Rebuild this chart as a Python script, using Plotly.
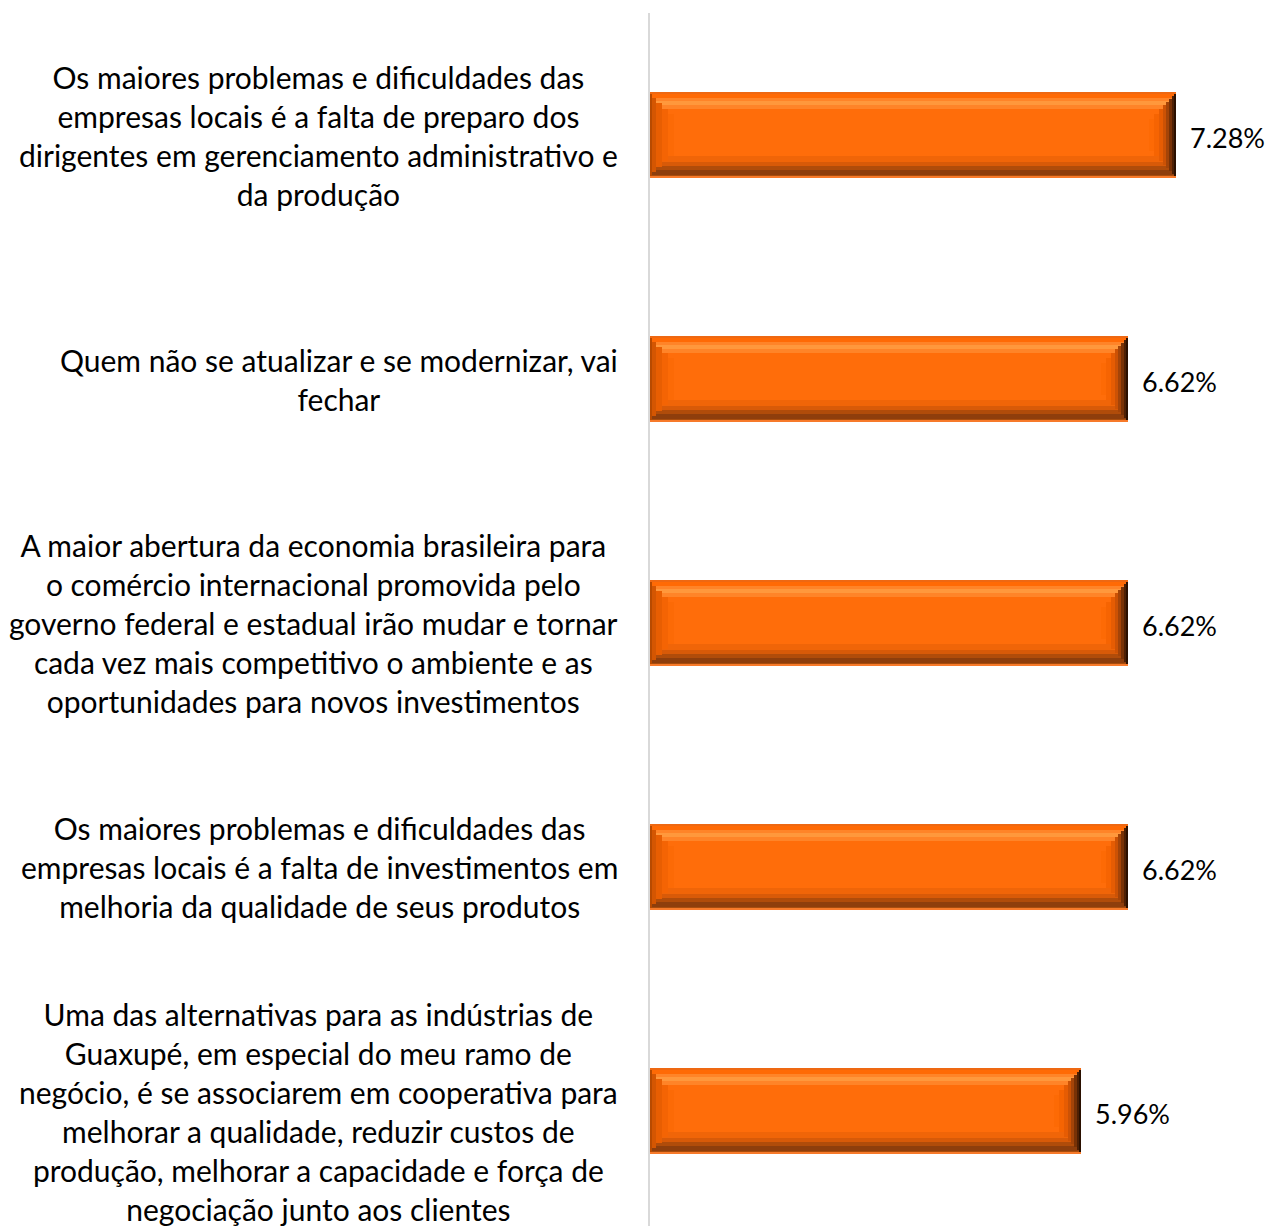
import numpy as np
import plotly.graph_objects as go

categories = [
    "Os maiores problemas e dificuldades das<br>empresas locais é a falta de preparo dos<br>dirigentes em gerenciamento administrativo e<br>da produção",
    "Quem não se atualizar e se modernizar, vai<br>fechar",
    "A maior abertura da economia brasileira para<br>o comércio internacional promovida pelo<br>governo federal e estadual irão mudar e tornar<br>cada vez mais competitivo o ambiente e as<br>oportunidades para novos investimentos",
    "Os maiores problemas e dificuldades das<br>empresas locais é a falta de investimentos em<br>melhoria da qualidade de seus produtos",
    "Uma das alternativas para as indústrias de<br>Guaxupé, em especial do meu ramo de<br>negócio, é se associarem em cooperativa para<br>melhorar a qualidade, reduzir custos de<br>produção, melhorar a capacidade e força de<br>negociação junto aos clientes",
]
values = [7.28, 6.62, 6.62, 6.62, 5.96]
value_labels = ["7.28%", "6.62%", "6.62%", "6.62%", "5.96%"]

# page body has an 8px margin, so the figure is sized to fit the 1275x1226 window
W, H = 1267, 1218
ML, MR, MT, MB = 642, 0, 5, 0
XMAX = 8.65
YTOP = -0.5
PY = 244.0                            # px per category unit
YBOT = YTOP + (H - MT - MB) / PY
QX = (W - ML - MR) / XMAX             # px per x unit
BAR_PX = 86.0
HB = BAR_PX / PY                      # bar thickness in category units

ypos = np.arange(len(categories))
vals = np.array(values)

fig = go.Figure()

def add_bar(x, base, top_px, bot_px, color):
    fig.add_trace(go.Bar(
        orientation="h", y=ypos, x=x, base=base,
        width=(bot_px - top_px) / PY,
        offset=-HB / 2 + top_px / PY,
        marker=dict(color=color, line=dict(width=0)),
        hoverinfo="skip", showlegend=False,
    ))

# horizontal strips (bevel top highlight / bottom shadow)
strips = [
    (0, 2, "#EE6812"), (2, 6, "#FF6A05"), (6, 9, "#FF8428"), (9, 13, "#FF983C"),
    (13, 17, "#FF8428"), (17, 64, "#FF6D0A"), (64, 70, "#F06508"), (70, 74, "#D85A08"),
    (74, 78, "#B04C0A"), (78, 83, "#8E3E0C"), (83, 84, "#A84C0C"), (84, 86, "#F77A2A"),
]
for a, b, c in strips:
    add_bar(vals, np.zeros_like(vals), a, b, c)

# left bevel (staircase of slices)
left = [(24, 22, "#FC6A06"), (18, 17, "#F46404"), (12, 11, "#E85E02"),
        (6, 6, "#D45602"), (2, 2, "#B84A00")]
for w, inset, c in left:
    add_bar(np.full_like(vals, w / QX), np.zeros_like(vals), inset, BAR_PX - inset, c)

# right bevel (staircase of slices)
right = [(27, 27, "#FD6A05"), (22, 22, "#F66402"), (17, 17, "#E65C03"), (13, 13, "#CC5205"),
         (10, 10, "#A44408"), (7, 7, "#783206"), (4, 4, "#4E2004"), (2, 2, "#2A1000")]
for w, inset, c in right:
    add_bar(np.full_like(vals, w / QX), vals - w / QX, inset, BAR_PX - inset, c)

FONT = "Lato, Carlito, 'Open Sans', sans-serif"

annotations = []
for i, cat in enumerate(categories):
    annotations.append(dict(
        x=0, xref="paper", y=i, yref="y", text=cat, showarrow=False,
        xanchor="right", yanchor="middle", align="center", xshift=-30,
        font=dict(family=FONT, size=30, color="#000000"),
    ))
for i, (v, lab) in enumerate(zip(values, value_labels)):
    annotations.append(dict(
        x=v, xref="x", y=i, yref="y", text=lab, showarrow=False,
        xanchor="left", yanchor="middle", xshift=12, yshift=-2,
        font=dict(family=FONT, size=27, color="#000000"),
    ))

fig.update_layout(
    width=W, height=H,
    margin=dict(l=ML, r=MR, t=MT, b=MB, pad=0),
    barmode="overlay", bargap=0,
    plot_bgcolor="white", paper_bgcolor="white",
    annotations=annotations,
    xaxis=dict(range=[0, XMAX], visible=False, showgrid=False, zeroline=False),
    yaxis=dict(range=[YBOT, YTOP], showticklabels=False, ticks="", showgrid=False,
               zeroline=False, showline=True, linecolor="#D9D9D9", linewidth=2),
)

fig.write_html("out.html")
